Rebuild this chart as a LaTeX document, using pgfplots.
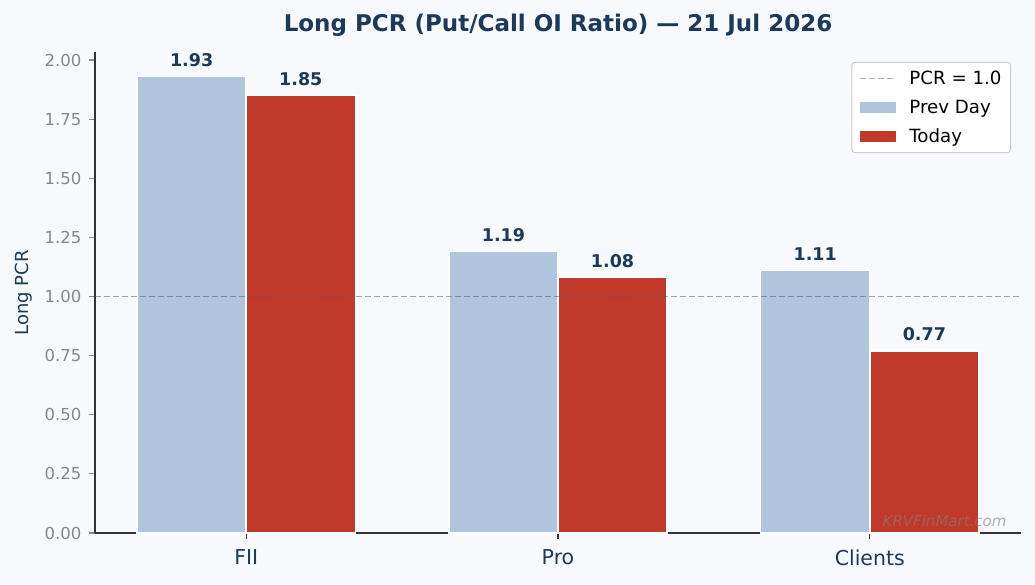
\documentclass[border=0pt]{standalone}
\usepackage{fontspec}
\setmainfont{DejaVu Sans}
\usepackage{pgfplots}
\pgfplotsset{compat=1.18}

\definecolor{bgc}{HTML}{F7F9FC}
\definecolor{navy}{HTML}{1A3A5C}
\definecolor{prevc}{HTML}{B0C4DE}
\definecolor{todayc}{HTML}{C0392B}
\definecolor{tickgrey}{HTML}{888888}
\definecolor{refline}{HTML}{4A5F80}
\definecolor{spine}{HTML}{333333}

\pgfplotsset{
    lineleg/.style={legend image code/.code={\draw[##1, sharp corners] (0pt,0pt) -- (36pt,0pt);}},
    barleg/.style={legend image code/.code={\fill[#1, sharp corners, draw=none] (0pt,-5.5pt) rectangle (36pt,5.5pt);}},
}

\begin{document}
\begin{tikzpicture}
\fill[bgc] (0,0) rectangle (1035pt,584pt);
\useasboundingbox (0,0) rectangle (1035pt,584pt);

\begin{axis}[
    at={(95pt,51pt)}, anchor=south west,
    scale only axis, width=926pt, height=481pt,
    xmin=-0.485, xmax=2.485,
    ymin=0, ymax=2.034,
    axis x line*=bottom, axis y line*=left,
    axis line style={-, draw=spine, line width=1.4pt},
    xtick={0,1,2}, xticklabels={FII,Pro,Clients},
    ytick={0,0.25,0.5,0.75,1,1.25,1.5,1.75,2},
    tick align=outside, major tick length=6pt,
    ytick style={draw=tickgrey, line width=1.2pt},
    xtick style={draw=spine, line width=1.2pt},
    yticklabel style={font=\fontsize{16.5}{19}\selectfont, text=tickgrey, xshift=-4pt},
    xticklabel style={font=\fontsize{20.5}{24}\selectfont, text=navy, yshift=-7pt},
    /pgf/number format/assume math mode=true,
    /pgf/number format/.cd, fixed, fixed zerofill, precision=2, /pgfplots/.cd,
    legend cell align=left,
    legend style={at={(1,1)}, anchor=north east, xshift=-10pt, yshift=-10pt,
        draw=black!20, line width=1pt, rounded corners=3pt, fill=white,
        font=\fontsize{18.2}{21}\selectfont, inner xsep=7pt, inner ysep=6.5pt,
        nodes={inner xsep=2pt}, row sep=10pt, column sep=11pt},
    nodes near coords,
    every node near coord/.append style={font=\fontsize{17.5}{20}\selectfont\bfseries, text=navy, anchor=base, yshift=10pt},
]

\addlegendimage{lineleg, draw=refline, draw opacity=0.5, dash pattern=on 6pt off 3pt, line width=1.5pt}
\addlegendentry{PCR = 1.0}

% Prev Day bars, placed left of each category
\addplot[ybar, bar width=0.35, bar shift=0, fill=prevc, draw=white, line width=1.5pt, barleg=prevc]
    coordinates {(-0.175,1.93) (0.825,1.19) (1.825,1.11)};
\addlegendentry{Prev Day}

% Today bars, placed right of each category
\addplot[ybar, bar width=0.35, bar shift=0, fill=todayc, draw=white, line width=1.5pt, barleg=todayc]
    coordinates {(0.175,1.85) (1.175,1.08) (2.175,0.77)};
\addlegendentry{Today}

\addplot[forget plot, no marks, draw=refline, draw opacity=0.55, dash pattern=on 6pt off 3pt,
    line width=1.5pt, nodes near coords={}]
    coordinates {(-0.485,1) (2.485,1)};
\end{axis}

\node[anchor=base, font=\fontsize{23}{28}\selectfont\bfseries, text=navy]
    at (558pt,552pt) {Long PCR (Put/Call OI Ratio) — 21 Jul 2026};
\node[rotate=90, font=\fontsize{18}{21}\selectfont, text=navy] at (24pt,291pt) {Long PCR};
\node[anchor=base east, font=\fontsize{15}{17}\selectfont\itshape, text=gray, opacity=0.6]
    at (1010pt,58pt) {KRVFinMart.com};
\end{tikzpicture}
\end{document}
